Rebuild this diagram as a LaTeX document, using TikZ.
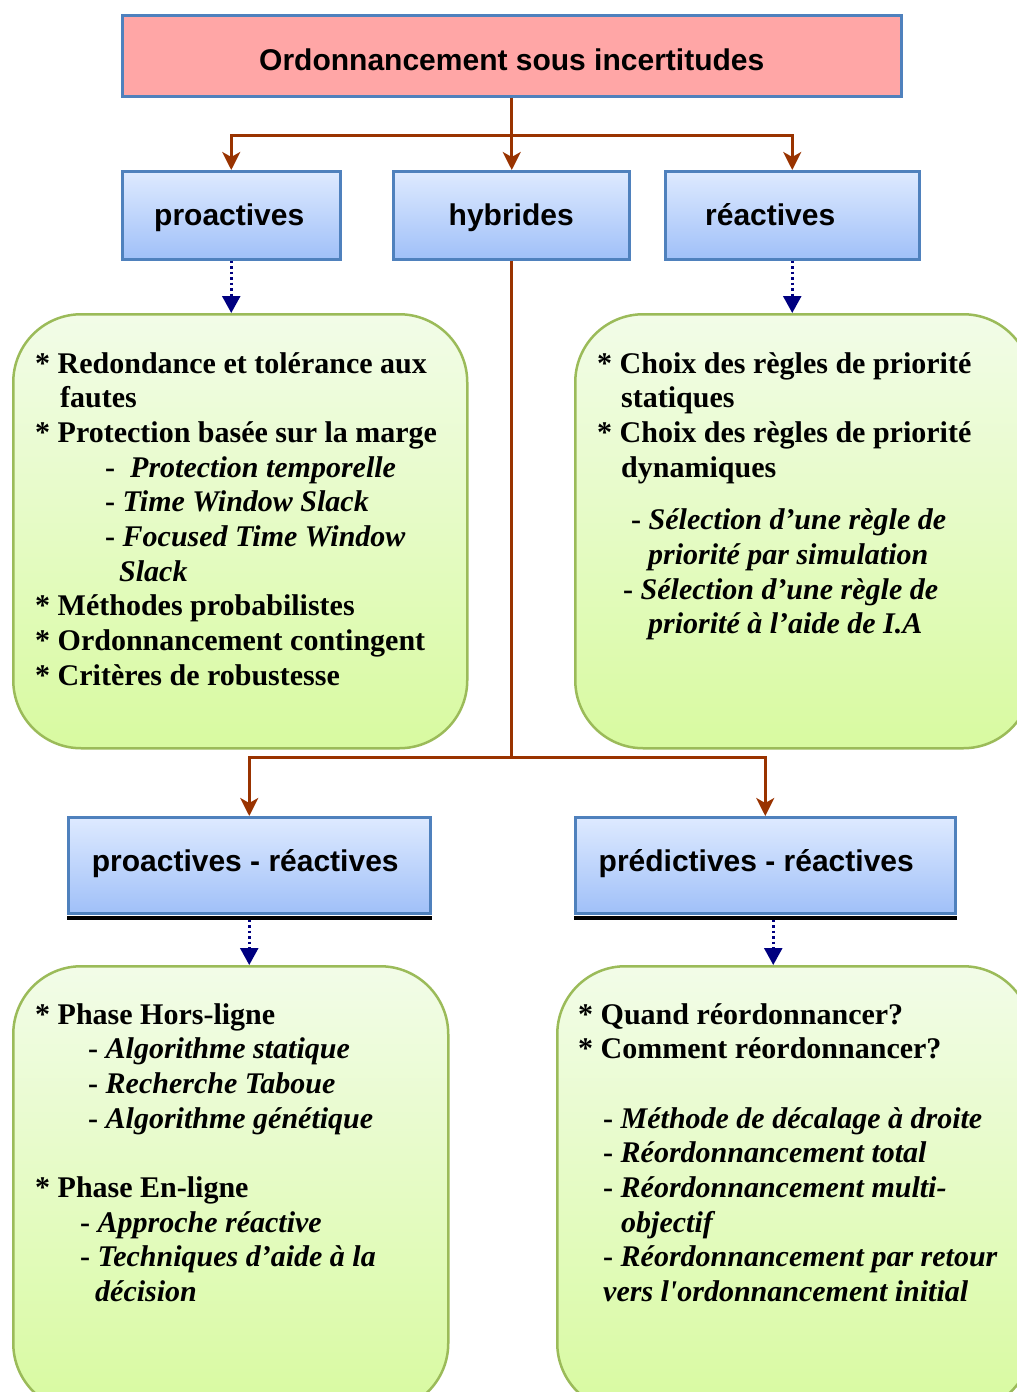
\documentclass[tikz,border=0pt]{standalone}
\usepackage{fontspec}
\setmainfont{Liberation Serif}
\setsansfont{Liberation Sans}
\usetikzlibrary{arrows.meta}
\definecolor{bborder}{RGB}{79,129,189}
\definecolor{btop}{RGB}{222,234,255}
\definecolor{bbot}{RGB}{160,192,248}
\definecolor{pinkf}{RGB}{255,166,166}
\definecolor{gborder}{RGB}{155,187,89}
\definecolor{gtop}{RGB}{242,252,232}
\definecolor{gbot}{RGB}{216,250,160}
\definecolor{brownc}{RGB}{153,51,0}
\definecolor{navyc}{RGB}{0,0,128}
\newcommand{\bxt}[3]{\makebox[0pt]{\hspace*{#1}\raisebox{#2}[0pt][0pt]{#3}}}
\newcommand{\txtlines}[1]{\begin{tabular}[t]{@{}l@{}}#1\end{tabular}}
\newcommand{\st}{{*}}
\begin{document}
\begin{tikzpicture}[x=1pt,y=-1pt,
  topbox/.style={draw=bborder, line width=2.5pt, fill=pinkf, inner sep=0pt, anchor=north west,
    font=\sffamily\bfseries\fontsize{30}{36}\selectfont},
  bbox/.style={draw=bborder, line width=2.5pt, top color=btop, bottom color=bbot, inner sep=0pt,
    anchor=north west, font=\sffamily\bfseries\fontsize{30}{36}\selectfont},
  gbox/.style={draw=gborder, line width=2.5pt, top color=gtop, bottom color=gbot,
    rounded corners=68pt, inner sep=0pt, anchor=north west},
  txt/.style={anchor=base west, inner sep=0pt, font=\rmfamily\bfseries\fontsize{30}{34.7}\selectfont},
  conn/.style={draw=brownc, line width=3pt, -{Stealth[length=18pt,width=18pt,inset=5pt]}},
  dconn/.style={draw=navyc, line width=2.5pt, dash pattern=on 2.5pt off 3pt,
    -{Triangle[length=17pt,width=18pt]}}]
\useasboundingbox (0,0) rectangle (1017,1392);
\clip (0,0) rectangle (1017,1392);

% green boxes
\node[gbox, minimum width=454pt, minimum height=434pt] (g1) at (12,313) {};
\node[gbox, minimum width=456pt, minimum height=434pt] (g2) at (574,313) {};
\node[gbox, minimum width=435pt, minimum height=445pt] (g3) at (12,965) {};
\node[gbox, minimum width=474pt, minimum height=445pt] (g4) at (556,965) {};

% title and category boxes
\node[topbox, minimum width=779pt, minimum height=81pt] (top) at (121,14)
  {\bxt{0pt}{-15.2pt}{Ordonnancement sous incertitudes}};
\node[bbox, minimum width=218pt, minimum height=88pt] (pro) at (121,170) {\bxt{-4pt}{-10.5pt}{proactives}};
\node[bbox, minimum width=236pt, minimum height=88pt] (hyb) at (392,170) {\bxt{0pt}{-10.5pt}{hybrides}};
\node[bbox, minimum width=254pt, minimum height=88pt] (rea) at (664,170) {\bxt{-44pt}{-10.5pt}{réactives}};
\node[bbox, minimum width=362pt, minimum height=96pt] (pa) at (67,816) {\bxt{-8pt}{-6.5pt}{proactives - réactives}};
\node[bbox, minimum width=380pt, minimum height=96pt] (pr) at (574,816) {\bxt{-18pt}{-6.5pt}{prédictives - réactives}};
\fill[black] ([yshift=-1.25pt]pa.south west) rectangle ([yshift=-5.5pt]pa.south east);
\fill[black] ([yshift=-1.25pt]pr.south west) rectangle ([yshift=-5.5pt]pr.south east);

% connectors
\coordinate (j1) at ([yshift=-38pt]top.south);
\draw[conn] (top.south) -- (j1) -| (pro.north);
\draw[conn] (j1) -| (rea.north);
\draw[conn] (j1) -- (j1 |- hyb.north);
\coordinate (j2) at ([yshift=-497pt]hyb.south);
\draw[conn] (hyb.south) -- (j2) -| (pa.north);
\draw[conn] (j2) -| (pr.north);

\draw[dconn] (pro.south) -- (pro.south |- g1.north);
\draw[dconn] (rea.south) -- (rea.south |- g2.north);
\draw[dconn] ([yshift=-5pt]pa.south) -- (pa.south |- g3.north);
\coordinate (prs) at ([xshift=8pt,yshift=-5pt]pr.south);
\draw[dconn] (prs) -- (prs |- g4.north);

% texts
\node[txt] (t1) at (35,373) {\txtlines{%
\st{} Redondance et tolérance aux\\
\hspace*{25pt}fautes\\
\st{} Protection basée sur la marge\\
\hspace*{70pt}-\ \ \textit{Protection temporelle}\\
\hspace*{70pt}- \textit{Time Window Slack}\\
\hspace*{70pt}- \textit{Focused Time Window}\\
\hspace*{84pt}\textit{Slack}\\
\st{} Méthodes probabilistes\\
\st{} Ordonnancement contingent\\
\st{} Critères de robustesse}};

\node[txt] (t2) at (597,373) {\txtlines{%
\st{} Choix des règles de priorité\\
\hspace*{24pt}statiques\\
\st{} Choix des règles de priorité\\
\hspace*{24pt}dynamiques\\[18pt]
\hspace*{34pt}- \textit{Sélection d’une règle de}\\
\hspace*{51pt}\textit{priorité par simulation}\\
\hspace*{26pt}- \textit{Sélection d’une règle de}\\
\hspace*{51pt}\textit{priorité à l’aide de I.A}}};

\node[txt] (t3) at (35,1024) {\txtlines{%
\st{} Phase Hors-ligne\\
\hspace*{53pt}- \textit{Algorithme statique}\\
\hspace*{53pt}- \textit{Recherche Taboue}\\
\hspace*{53pt}- \textit{Algorithme génétique}\\
\mbox{}\\
\st{} Phase En-ligne\\
\hspace*{45pt}- \textit{Approche réactive}\\
\hspace*{45pt}- \textit{Techniques d’aide à la}\\
\hspace*{60pt}\textit{décision}}};

\node[txt] (t4) at (578,1024) {\txtlines{%
\st{} Quand réordonnancer?\\
\st{} Comment réordonnancer?\\
\mbox{}\\
\hspace*{25pt}- \textit{Méthode de décalage à droite}\\
\hspace*{25pt}- \textit{Réordonnancement total}\\
\hspace*{25pt}- \textit{Réordonnancement multi-}\\
\hspace*{43pt}\textit{objectif}\\
\hspace*{25pt}- \textit{Réordonnancement par retour}\\
\hspace*{25pt}\textit{vers l\textquotesingle ordonnancement initial}}};
\end{tikzpicture}
\end{document}
